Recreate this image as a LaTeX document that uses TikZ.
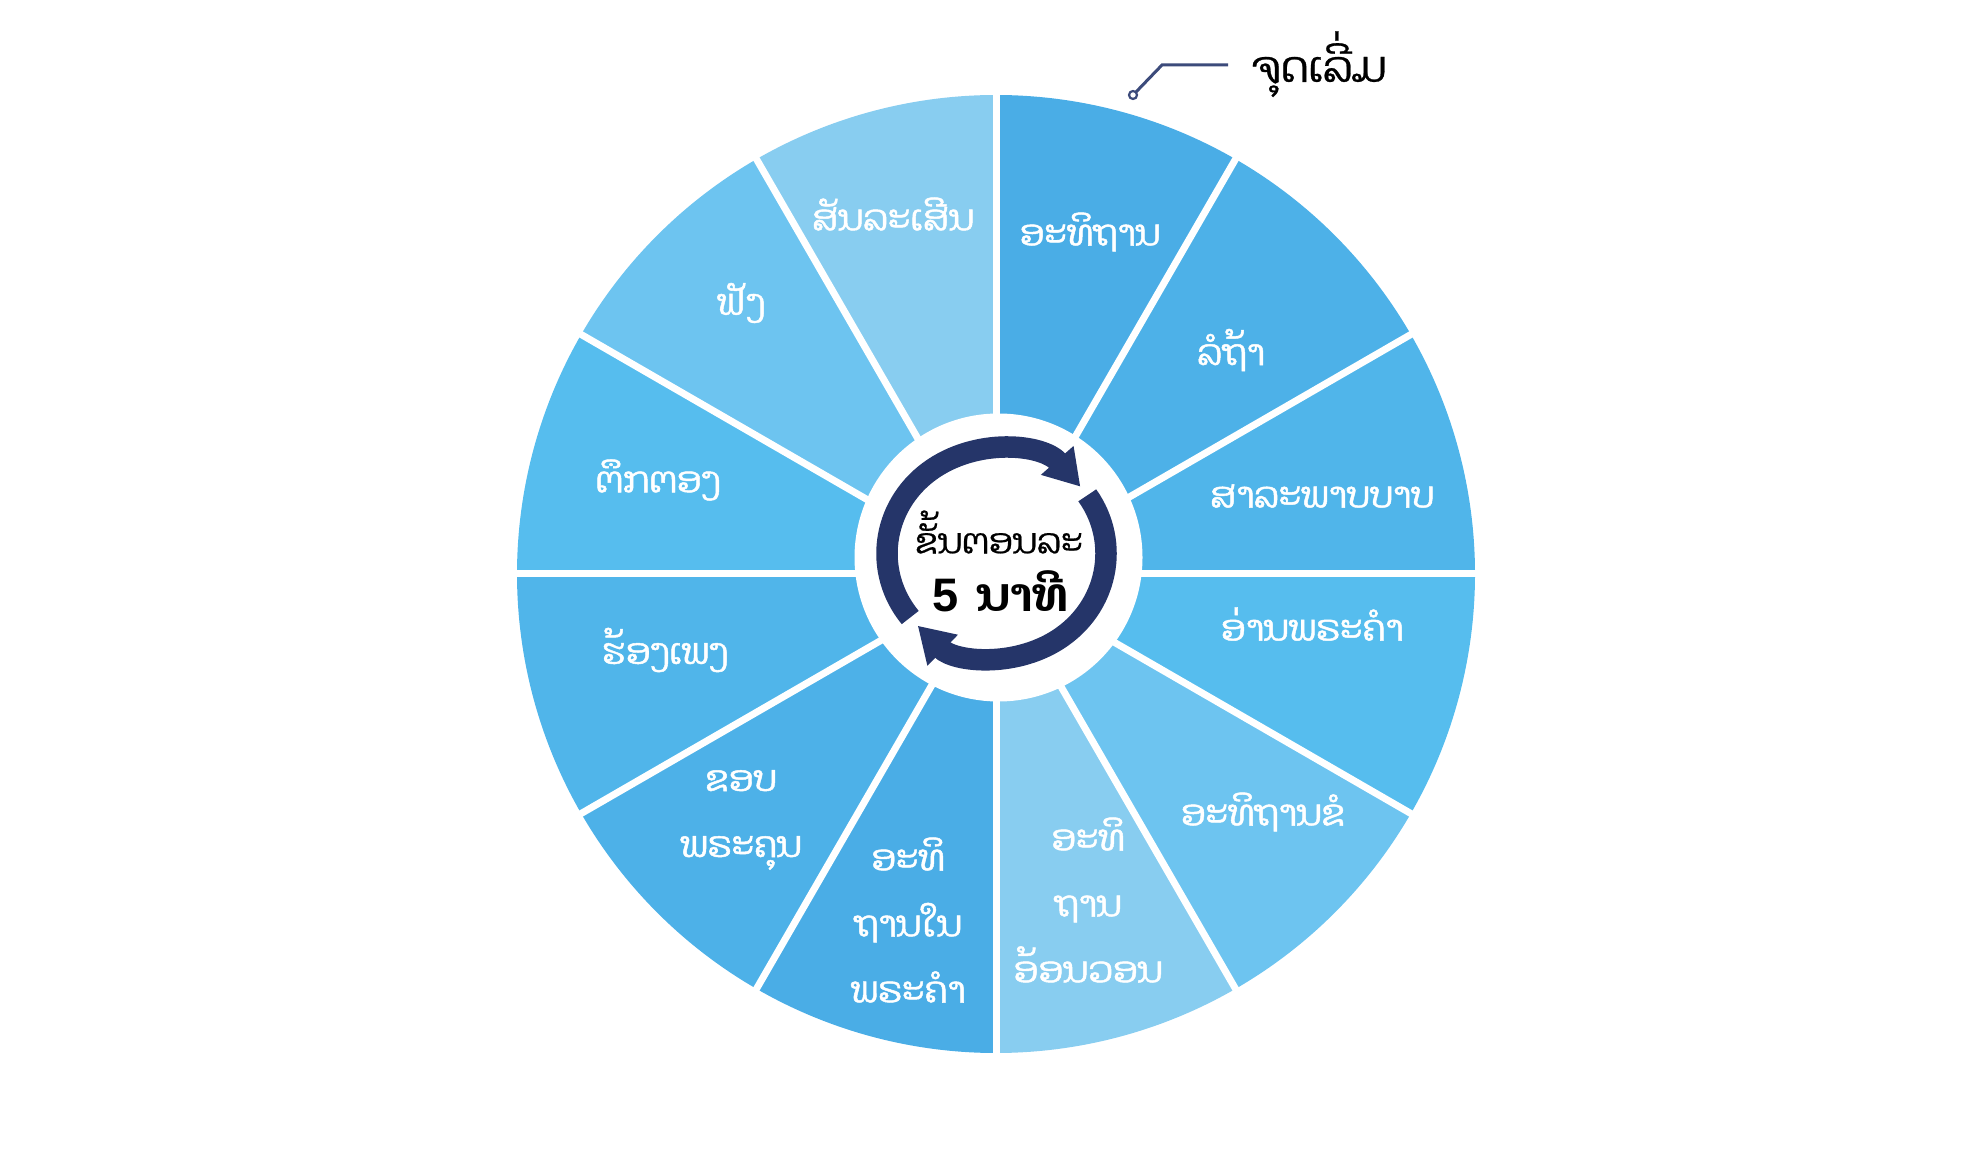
\documentclass[tikz,border=0pt]{standalone}
\usepackage{fontspec}
\newfontfamily\lao[Script=Lao]{Dhyana}
\newfontfamily\laob[Script=Lao,FakeBold=1.3]{Dhyana}
\newfontfamily\laom[Script=Lao,FakeBold=0.6]{Dhyana}
\newfontfamily\sansfnt{Liberation Sans}
\usetikzlibrary{arrows.meta,calc}
\definecolor{cA}{HTML}{4AADE6}
\definecolor{cB}{HTML}{4DB1E8}
\definecolor{cC}{HTML}{50B5EA}
\definecolor{cD}{HTML}{56BDEE}
\definecolor{cE}{HTML}{6DC4F0}
\definecolor{cF}{HTML}{88CDF0}
\definecolor{navy}{HTML}{253569}
\definecolor{leader}{HTML}{3C4B7B}
\tikzset{
  seglabel/.style={text=white, font=\laob\fontsize{36}{66}\selectfont, align=center, inner sep=0pt},
  divider/.style={white, line width=7pt},
  ringarc/.style={navy, line width=21.5pt},
  ringtip/.style={-{Triangle[length=35pt,width=41pt]}},
}
\begin{document}
\begin{tikzpicture}[x=1pt,y=1pt]
\useasboundingbox (0,0) rectangle (1970,1152);
\coordinate (C) at (996,578);
\coordinate (H) at (998.5,594.5);
\coordinate (R) at (996.5,598.5);
% wedges
\foreach \a/\c in {90/cA,60/cB,30/cC,0/cD,-30/cE,-60/cF,-90/cA,-120/cB,-150/cC,-180/cD,-210/cE,-240/cF}{
  \fill[\c] (C) -- ++(\a:479) arc[start angle=\a, delta angle=-30, radius=479] -- cycle;
}
\foreach \a in {0,30,...,330}{
  \draw[divider] (C) -- ++(\a:486);
}
% hub
\fill[white] (H) circle[radius=144];
\draw[ringarc, ringtip] (R) ++({109.5*cos(218)},{104*sin(218)}) arc[start angle=218, end angle=40, x radius=109.5, y radius=104];
\draw[ringarc, ringtip] (R) ++({109.5*cos(34)},{104*sin(34)}) arc[start angle=34, end angle=-136, x radius=109.5, y radius=104];
\node[font=\laom\fontsize{35}{40}\selectfont, inner sep=0pt] (t1) at (999,620) {ຂັ້ນຕອນລະ};
\node[font=\fontsize{47}{50}\selectfont\bfseries, inner sep=0pt] (t2) at (1000,561) {{\sansfnt 5} {\lao ນາທີ}};
% labels
\node[seglabel] (s1) at (1090,920) {ອະທິຖານ};
\node[seglabel] (s2) at (1231,802) {ລໍຖ້າ};
\node[seglabel] (s3) at (1322,656) {ສາລະພາບບາບ};
\node[seglabel] (s4) at (1312,528) {ອ່ານພຣະຄຳ};
\node[seglabel] (s5) at (1263,340) {ອະທິຖານຂໍ};
\node[seglabel] (s6) at (1088,252) {ອະທິ\\ຖານ\\ອ້ອນວອນ};
\node[seglabel] (s7) at (908,232) {ອະທິ\\ຖານໃນ\\ພຣະຄຳ};
\node[seglabel] (s8) at (741,332) {ຂອບ\\ພຣະຄຸນ};
\node[seglabel] (s9) at (665,502) {ຮ້ອງເພງ};
\node[seglabel] (s10) at (658,672) {ຕຶກຕອງ};
\node[seglabel] (s11) at (741,849) {ຟັງ};
\node[seglabel] (s12) at (893,938) {ສັນລະເສີນ};
% start label
\node[font=\laom\fontsize{43}{48}\selectfont, anchor=base west, inner sep=0pt] (start) at (1252,1070) {ຈຸດເລີ່ມ};
\coordinate (k1) at (1228,1087);
\coordinate (k2) at (1162,1087);
\coordinate (k3) at (1133,1057);
\draw[leader, line width=3pt] (k1) -- (k2) -- ($(k3)+(3,3)$);
\draw[leader, line width=2.2pt] (k3) circle[radius=4];
\end{tikzpicture}
\end{document}
